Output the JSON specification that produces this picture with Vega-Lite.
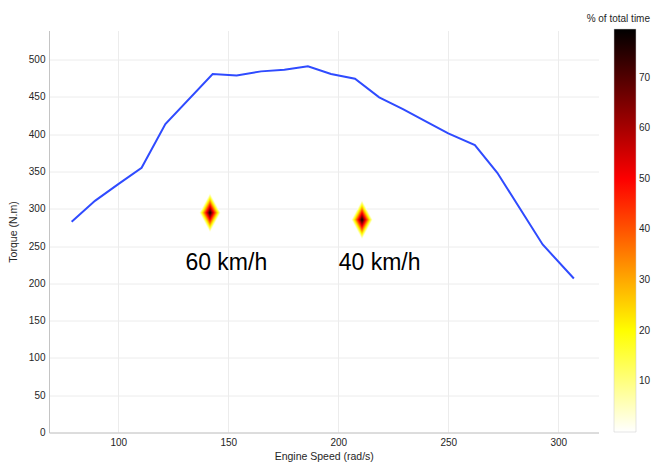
{
  "$schema": "https://vega.github.io/schema/vega-lite/v6.json",
  "width": 549.5,
  "height": 402,
  "autosize": {"type": "none"},
  "padding": {"left": 49, "top": 30.5, "right": 59.5, "bottom": 29.5},
  "background": "white",
  "config": {
    "font": "Liberation Sans",
    "view": {"stroke": null},
    "axis": {
      "labelFont": "Liberation Sans",
      "titleFont": "Liberation Sans",
      "labelFontSize": 10,
      "titleFontSize": 10.5,
      "titleFontWeight": "normal",
      "labelColor": "#262626",
      "titleColor": "#262626",
      "gridColor": "#ececec",
      "gridWidth": 1,
      "domainColor": "#c4c4c4",
      "ticks": false
    }
  },
  "datasets": {
    "curve": [
      {"speed": 78.8, "torque": 282.5},
      {"speed": 89.4, "torque": 310.6},
      {"speed": 100.0, "torque": 333.0},
      {"speed": 110.6, "torque": 354.9},
      {"speed": 121.4, "torque": 413.5},
      {"speed": 142.9, "torque": 480.6},
      {"speed": 153.8, "torque": 478.8},
      {"speed": 164.9, "torque": 484.2},
      {"speed": 175.5, "torque": 486.3},
      {"speed": 186.2, "torque": 490.9},
      {"speed": 196.7, "torque": 480.6},
      {"speed": 207.6, "torque": 474.3},
      {"speed": 218.6, "torque": 449.3},
      {"speed": 229.4, "torque": 433.6},
      {"speed": 240.2, "torque": 416.6},
      {"speed": 250.0, "torque": 401.0},
      {"speed": 262.1, "torque": 385.3},
      {"speed": 272.3, "torque": 348.2},
      {"speed": 292.9, "torque": 252.1},
      {"speed": 307.1, "torque": 206.5}
    ],
    "hot": [
      {"speed": 141.7, "torque": 294.5, "pct": 2},
      {"speed": 141.7, "torque": 294.5, "pct": 6},
      {"speed": 141.7, "torque": 294.5, "pct": 10},
      {"speed": 141.7, "torque": 294.5, "pct": 14},
      {"speed": 141.7, "torque": 294.5, "pct": 18},
      {"speed": 141.7, "torque": 294.5, "pct": 22},
      {"speed": 141.7, "torque": 294.5, "pct": 26},
      {"speed": 141.7, "torque": 294.5, "pct": 30},
      {"speed": 141.7, "torque": 294.5, "pct": 34},
      {"speed": 141.7, "torque": 294.5, "pct": 38},
      {"speed": 141.7, "torque": 294.5, "pct": 42},
      {"speed": 141.7, "torque": 294.5, "pct": 46},
      {"speed": 141.7, "torque": 294.5, "pct": 50},
      {"speed": 141.7, "torque": 294.5, "pct": 54},
      {"speed": 141.7, "torque": 294.5, "pct": 58},
      {"speed": 141.7, "torque": 294.5, "pct": 62},
      {"speed": 141.7, "torque": 294.5, "pct": 66},
      {"speed": 141.7, "torque": 294.5, "pct": 70},
      {"speed": 141.7, "torque": 294.5, "pct": 74},
      {"speed": 141.7, "torque": 294.5, "pct": 78},
      {"speed": 210.8, "torque": 285.1, "pct": 2},
      {"speed": 210.8, "torque": 285.1, "pct": 6},
      {"speed": 210.8, "torque": 285.1, "pct": 10},
      {"speed": 210.8, "torque": 285.1, "pct": 14},
      {"speed": 210.8, "torque": 285.1, "pct": 18},
      {"speed": 210.8, "torque": 285.1, "pct": 22},
      {"speed": 210.8, "torque": 285.1, "pct": 26},
      {"speed": 210.8, "torque": 285.1, "pct": 30},
      {"speed": 210.8, "torque": 285.1, "pct": 34},
      {"speed": 210.8, "torque": 285.1, "pct": 38},
      {"speed": 210.8, "torque": 285.1, "pct": 42},
      {"speed": 210.8, "torque": 285.1, "pct": 46},
      {"speed": 210.8, "torque": 285.1, "pct": 50},
      {"speed": 210.8, "torque": 285.1, "pct": 54},
      {"speed": 210.8, "torque": 285.1, "pct": 58},
      {"speed": 210.8, "torque": 285.1, "pct": 62},
      {"speed": 210.8, "torque": 285.1, "pct": 66},
      {"speed": 210.8, "torque": 285.1, "pct": 70},
      {"speed": 210.8, "torque": 285.1, "pct": 74},
      {"speed": 210.8, "torque": 285.1, "pct": 78}
    ],
    "labels": [
      {"speed": 149.1, "torque": 217.7, "label": "60 km/h"},
      {"speed": 218.8, "torque": 217.7, "label": "40 km/h"}
    ]
  },
  "encoding": {
    "x": {
      "field": "speed",
      "type": "quantitative",
      "scale": {"domain": [68.5, 318.3], "nice": false, "zero": false},
      "axis": {
        "title": "Engine Speed (rad/s)",
        "values": [100, 150, 200, 250, 300],
        "grid": true,
        "labelPadding": 5,
        "titlePadding": 4
      }
    },
    "y": {
      "field": "torque",
      "type": "quantitative",
      "scale": {"domain": [0, 539], "nice": false},
      "axis": {
        "title": "Torque (N.m)",
        "values": [0, 50, 100, 150, 200, 250, 300, 350, 400, 450, 500],
        "grid": true,
        "labelPadding": 4,
        "titlePadding": 10
      }
    }
  },
  "layer": [
    {
      "data": {"name": "hot"},
      "mark": {
        "type": "point",
        "shape": "M0,-1L0.54,0L0,1L-0.54,0Z",
        "filled": true,
        "opacity": 1,
        "strokeWidth": 0
      },
      "encoding": {
        "color": {
          "field": "pct",
          "type": "quantitative",
          "scale": {
            "domain": [0, 19.9, 49.75, 79.6],
            "range": ["#ffffff", "#ffff00", "#ff0000", "#000000"],
            "interpolate": "rgb"
          },
          "legend": {
            "orient": "none",
            "legendX": 538,
            "legendY": -16.5,
            "direction": "vertical",
            "gradientLength": 403,
            "gradientThickness": 22,
            "gradientStrokeColor": "#c8c8c8",
            "gradientStrokeWidth": 0.5,
            "values": [10, 20, 30, 40, 50, 60, 70],
            "title": "% of total time",
            "titleFont": "Liberation Sans",
            "titleFontSize": 10,
            "titleFontWeight": "normal",
            "titleColor": "#262626",
            "titleAnchor": "end",
            "titlePadding": 5,
            "labelFont": "Liberation Sans",
            "labelFontSize": 10,
            "labelColor": "#262626",
            "labelOffset": 3
          }
        },
        "size": {
          "field": "pct",
          "type": "ordinal",
          "scale": {
            "type": "ordinal",
            "domain": [2, 6, 10, 14, 18, 22, 26, 30, 34, 38, 42, 46, 50, 54, 58, 62, 66, 70, 74, 78],
            "range": [1521, 1369, 1225, 1089, 961, 841, 729, 625, 529, 441, 361, 289, 225, 169, 121, 81, 49, 25, 9, 1]
          },
          "legend": null
        }
      }
    },
    {
      "data": {"name": "curve"},
      "mark": {"type": "line", "color": "#2f4bff", "strokeWidth": 2}
    },
    {
      "data": {"name": "labels"},
      "mark": {
        "type": "text",
        "font": "Liberation Sans",
        "fontSize": 23,
        "color": "#000000",
        "align": "center",
        "baseline": "alphabetic"
      },
      "encoding": {"text": {"field": "label", "type": "nominal"}}
    }
  ]
}
